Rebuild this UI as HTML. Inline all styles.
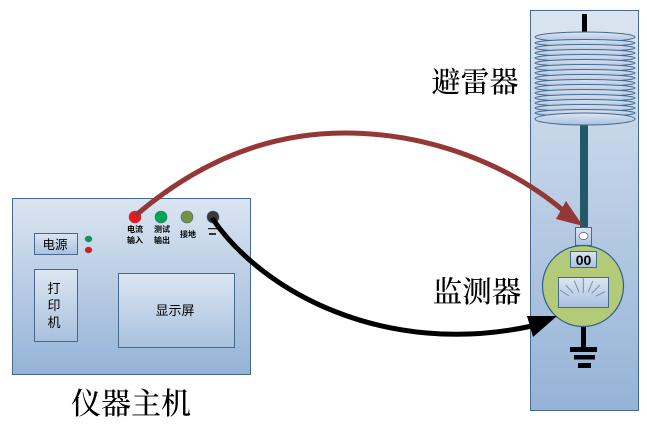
<!DOCTYPE html>
<html><head><meta charset="utf-8"><style>
html,body{margin:0;padding:0;background:#fff}
svg{display:block}
text{font-family:"Liberation Sans","Noto Sans CJK SC",sans-serif;fill:#000;text-anchor:middle}
</style></head><body>
<svg width="647" height="425" viewBox="0 0 647 425" xmlns="http://www.w3.org/2000/svg">
<defs>
<linearGradient id="g" x1="0" y1="0" x2="0" y2="1"><stop offset="0" stop-color="#dbe5f1"/><stop offset="1" stop-color="#95b3d7"/></linearGradient>
<linearGradient id="c" x1="0" y1="0" x2="0" y2="1"><stop offset="0" stop-color="#dce6f2"/><stop offset="1" stop-color="#a9c1de"/></linearGradient>
</defs>
<!-- right column -->
<rect x="530.5" y="10.5" width="108" height="400" fill="url(#g)" stroke="#44688f"/>
<rect x="582" y="14" width="5" height="18" fill="#000"/>
<rect x="580" y="125" width="8" height="103" fill="#215968"/>
<!-- coil -->
<g fill="url(#c)" stroke="#44688f" stroke-width="1">
<ellipse cx="585" cy="37" rx="50" ry="5"/>
<ellipse cx="585" cy="43" rx="50" ry="3.5"/><ellipse cx="585" cy="48" rx="50" ry="3.5"/><ellipse cx="585" cy="53" rx="50" ry="3.5"/><ellipse cx="585" cy="58" rx="50" ry="3.5"/><ellipse cx="585" cy="63" rx="50" ry="3.5"/><ellipse cx="585" cy="68" rx="50" ry="3.5"/><ellipse cx="585" cy="73" rx="50" ry="3.5"/><ellipse cx="585" cy="78" rx="50" ry="3.5"/><ellipse cx="585" cy="83" rx="50" ry="3.5"/><ellipse cx="585" cy="88" rx="50" ry="3.5"/><ellipse cx="585" cy="93" rx="50" ry="3.5"/><ellipse cx="585" cy="98" rx="50" ry="3.5"/><ellipse cx="585" cy="103" rx="50" ry="3.5"/><ellipse cx="585" cy="108" rx="50" ry="3.5"/><ellipse cx="585" cy="113" rx="50" ry="3.5"/>
<ellipse cx="585" cy="119" rx="50" ry="6"/>
</g>
<!-- meter -->
<rect x="575.5" y="227.5" width="16" height="18" fill="url(#c)" stroke="#44688f"/>
<ellipse cx="583.5" cy="236" rx="4.5" ry="3.5" fill="#fff" stroke="#555" stroke-width=".7"/>
<rect x="581" y="325" width="5" height="24" fill="#000"/>
<circle cx="583" cy="286" r="40.5" fill="#b3cb78" stroke="#2f5f8a" stroke-width="1.2"/>
<rect x="570.5" y="251.5" width="26" height="16" fill="url(#c)" stroke="#44688f"/>
<text x="583.5" y="265" font-size="14" font-weight="bold" style="font-family:'Liberation Sans',sans-serif">00</text>
<rect x="558.5" y="277.5" width="50" height="30" fill="url(#c)" stroke="#44688f"/>
<g stroke="#6f8fb5" stroke-width="1" fill="none">
<path d="M583.3 278V293M565.7 285L573.3 293.3M574.3 280.7L579 292.3M560 290L569 296M592.7 281L588.3 292M600 285L591.7 293.3M605 291.7L596 296"/>
</g>
<rect x="570" y="347" width="27" height="5" fill="#000"/>
<rect x="574" y="355" width="21" height="4.5" fill="#000"/>
<rect x="578" y="363" width="13" height="5" fill="#000"/>
<!-- main box -->
<rect x="12.5" y="198.5" width="238" height="176" fill="url(#g)" stroke="#44688f"/>
<rect x="34.5" y="233.5" width="43" height="21" fill="url(#c)" stroke="#44688f"/>
<text x="55" y="249" font-size="12.5">电源</text>
<ellipse cx="88.5" cy="239" rx="3.5" ry="3" fill="#0c9a50" stroke="#44688f" stroke-width=".5"/>
<ellipse cx="88.5" cy="250" rx="3.5" ry="3" fill="#e0141c" stroke="#44688f" stroke-width=".5"/>
<rect x="34.5" y="269.5" width="43" height="72" fill="url(#c)" stroke="#44688f"/>
<text x="54" y="293" font-size="13">打</text>
<text x="54" y="310" font-size="13">印</text>
<text x="54" y="327" font-size="13">机</text>
<rect x="118.5" y="273.5" width="116" height="74" fill="url(#c)" stroke="#44688f"/>
<text x="175" y="315" font-size="13">显示屏</text>
<circle cx="135" cy="217" r="6" fill="#f5141c" stroke="#7a5a5a" stroke-width=".6"/>
<circle cx="161" cy="217" r="6" fill="#00a650" stroke="#44688f" stroke-width=".6"/>
<circle cx="187" cy="217" r="6" fill="#76923c" stroke="#44688f" stroke-width=".6"/>
<circle cx="213" cy="217" r="6" fill="#3a3a3a" stroke="#44688f" stroke-width=".6"/>
<g font-size="8" font-weight="bold">
<text x="135" y="232">电流</text><text x="135" y="243">输入</text>
<text x="162" y="232">测试</text><text x="162" y="243">输出</text>
<text x="188" y="237">接地</text>
</g>
<rect x="208" y="228" width="9" height="1.2" fill="#222"/><rect x="209" y="233" width="7" height="2" fill="#333"/>
<!-- connectors -->
<path d="M135 216C200 160 270 133 345 133C430 133 510 165 565 212" fill="none" stroke="#953735" stroke-width="5"/>
<polygon points="583,226 556,219 566,201" fill="#953735"/>
<path d="M212 218C262 292 385 358 532 326" fill="none" stroke="#000" stroke-width="5"/>
<polygon points="557,316 533,337 527,316" fill="#000"/>
<!-- labels -->
<text x="475" y="92" font-size="29" font-weight="500" style="font-family:'Noto Serif CJK SC',serif">避雷器</text>
<text x="477" y="302" font-size="29.5" font-weight="500" style="font-family:'Noto Serif CJK SC',serif">监测器</text>
<text x="131" y="414" font-size="30" font-weight="500" style="font-family:'Noto Serif CJK SC',serif">仪器主机</text>
</svg>
</body></html>
